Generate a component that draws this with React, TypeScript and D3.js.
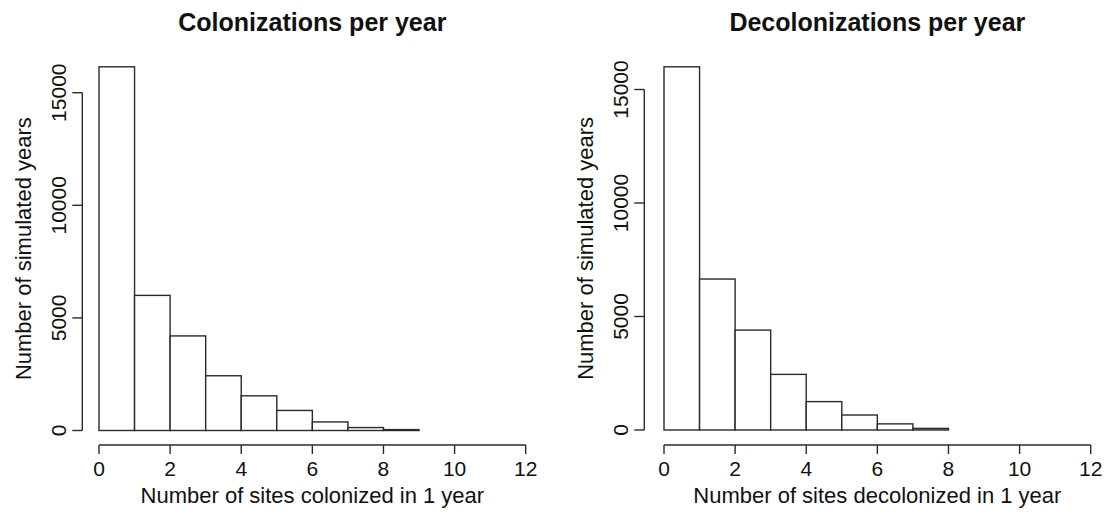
import React from "react";
import * as d3 from "d3";

const binEdges = [0, 1, 2, 3, 4, 5, 6, 7, 8, 9, 10, 11, 12];
const colonizationCounts = [16150, 6000, 4200, 2430, 1540, 890, 380, 130, 40, 0, 0, 0];
const decolonizationCounts = [16000, 6650, 4400, 2450, 1250, 660, 270, 70, 0, 0, 0, 0];
const xTicks = [0, 2, 4, 6, 8, 10, 12];
const yTicks = [0, 5000, 10000, 15000];

const titles = ["Colonizations per year", "Decolonizations per year"];
const xLabels = ["Number of sites colonized in 1 year", "Number of sites decolonized in 1 year"];
const yLabel = "Number of simulated years";

const FONT = "'Liberation Sans', Arial, sans-serif";
const STROKE = "#2a2a2a";
const TEXT = "#111";

type PanelProps = {
  counts: number[];
  title: string;
  xLabel: string;
  xRange: [number, number];
  yRange: [number, number];
  yAxisX: number;
  xAxisY: number;
};

function Panel({ counts, title, xLabel, xRange, yRange, yAxisX, xAxisY }: PanelProps) {
  const x = d3.scaleLinear().domain([0, 12]).range(xRange);
  const y = d3.scaleLinear().domain([0, 15000]).range(yRange);
  const cx = x(6);
  const cy = y((d3.max(counts) ?? 0) / 2);
  return (
    <g>
      <text x={cx} y={31} textAnchor="middle" fontFamily={FONT} fontWeight="bold" fontSize={25} fill={TEXT}>
        {title}
      </text>
      {counts.map((c, i) => (
        <rect
          key={i}
          x={x(binEdges[i])}
          y={y(c)}
          width={x(binEdges[i + 1]) - x(binEdges[i])}
          height={y(0) - y(c)}
          fill="white"
          stroke={STROKE}
          strokeWidth={1.4}
        />
      ))}
      {/* y axis */}
      <line x1={yAxisX} x2={yAxisX} y1={y(0)} y2={y(15000)} stroke={STROKE} strokeWidth={1.4} />
      {yTicks.map((t) => (
        <g key={t}>
          <line x1={yAxisX - 10} x2={yAxisX} y1={y(t)} y2={y(t)} stroke={STROKE} strokeWidth={1.4} />
          <text
            transform={`translate(${yAxisX - 16},${y(t)}) rotate(-90)`}
            textAnchor="middle"
            fontFamily={FONT}
            fontSize={21}
            fill={TEXT}
          >
            {t}
          </text>
        </g>
      ))}
      <text
        transform={`translate(${yAxisX - 51},${cy}) rotate(-90)`}
        textAnchor="middle"
        fontFamily={FONT}
        fontSize={22}
        fill={TEXT}
      >
        {yLabel}
      </text>
      {/* x axis */}
      <line x1={x(0)} x2={x(12)} y1={xAxisY} y2={xAxisY} stroke={STROKE} strokeWidth={1.4} />
      {xTicks.map((t) => (
        <g key={t}>
          <line x1={x(t)} x2={x(t)} y1={xAxisY} y2={xAxisY + 9} stroke={STROKE} strokeWidth={1.4} />
          <text x={x(t)} y={xAxisY + 31} textAnchor="middle" fontFamily={FONT} fontSize={21} fill={TEXT}>
            {t}
          </text>
        </g>
      ))}
      <text x={cx} y={xAxisY + 58} textAnchor="middle" fontFamily={FONT} fontSize={22} fill={TEXT}>
        {xLabel}
      </text>
    </g>
  );
}

export default function App() {
  return (
    <svg
      width={1107}
      height={515}
      style={{ position: "absolute", left: 0, top: 0, background: "white" }}
    >
      <rect x={0} y={0} width={1107} height={515} fill="white" />
      <Panel
        counts={colonizationCounts}
        title={titles[0]}
        xLabel={xLabels[0]}
        xRange={[99, 525.7]}
        yRange={[430.5, 92.7]}
        yAxisX={82.3}
        xAxisY={445}
      />
      <Panel
        counts={decolonizationCounts}
        title={titles[1]}
        xLabel={xLabels[1]}
        xRange={[664, 1090.7]}
        yRange={[430, 89.5]}
        yAxisX={644.3}
        xAxisY={445}
      />
    </svg>
  );
}
